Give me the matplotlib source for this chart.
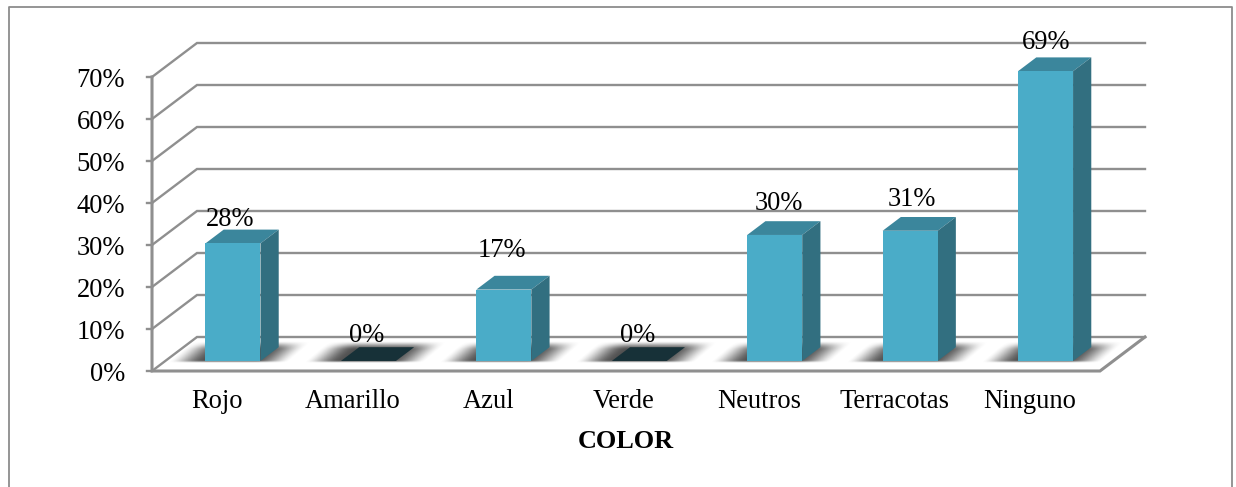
import matplotlib.pyplot as plt
import numpy as np
from matplotlib.lines import Line2D
from matplotlib.patches import Polygon

categories = ['Rojo', 'Amarillo', 'Azul', 'Verde', 'Neutros', 'Terracotas', 'Ninguno']
values = [28, 0, 17, 0, 30, 31, 69]
y_ticks = [0, 10, 20, 30, 40, 50, 60, 70]
# value label placement relative to each bar, in pixels
label_lift = [23.5, 25.5, 39.5, 25.5, 31, 31, 29]
label_shift = [-2.5, -1.5, -1.5, -1.5, 4.5, 2, 0.5]

W, H = 1236, 487
FRONT_L, FRONT_R, FRONT_Y, TOP_Y = 152, 1100, 371, 77
DEPTH_X, DEPTH_Y = 45, 34
FS = 19.1

plt.rcParams['font.family'] = ['Liberation Serif', 'DejaVu Serif']
fig = plt.figure(figsize=(W / 100, H / 100), dpi=100)
ax = fig.add_axes([FRONT_L / W, 1 - FRONT_Y / H, (FRONT_R - FRONT_L) / W, (FRONT_Y - TOP_Y) / H])

px_x = (FRONT_R - FRONT_L) / len(categories)
px_y = (FRONT_Y - TOP_Y) / 70
dx = DEPTH_X / px_x
dy = DEPTH_Y / px_y


def proj(x, y, d):
    # oblique projection, d=0 is the front edge and d=1 the back wall
    return x + dx * d, y + dy * d


def face(pts, color, zorder):
    ax.add_patch(Polygon([proj(*p) for p in pts], closed=True, facecolor=color, edgecolor='none',
                         zorder=zorder, clip_on=False))


def smooth(t):
    t = np.clip(t, 0, 1)
    return t * t * (3 - 2 * t)


# soft floor shadow as an RGBA image, the skew is worked into the alpha channel
SH_W, SH_H, SH_SKEW = 146, 22, 26
px, py = np.meshgrid(np.arange(SH_W) + 0.5, np.arange(SH_H) + 0.5)
sh_v = py / SH_H
sh_u = (px - SH_SKEW * sh_v) / (SH_W - SH_SKEW)
shadow = np.zeros((SH_H, SH_W, 4))
shadow[..., :3] = 0.2
shadow[..., 3] = 0.85 * (smooth(sh_u / 0.3) * smooth((1 - sh_u) / 0.3)
                         * smooth(sh_v / 0.14) * smooth((1 - sh_v) / 0.4)) ** 0.8

grid_c = '#8f8f8f'
lw = 1.7
x0, x1 = -0.5, len(categories) - 0.5

# back wall lines, side wall diagonals and tick marks
for t in y_ticks:
    xs, ys = zip(proj(x0, t, 0), proj(x0, t, 1), proj(x1, t, 1))
    ax.plot(xs, ys, color=grid_c, lw=lw, clip_on=False, zorder=1, solid_joinstyle='miter')
    ax.plot([x0 - 5 / px_x, x0], [t, t], color=grid_c, lw=lw, clip_on=False, zorder=1)
    ax.text(x0 - 27 / px_x, t - 0.8, f'{t}%', ha='right', va='center', fontsize=FS, color='black')

# front of the floor and the vertical axis
xs, ys = zip(proj(x0, 70, 0), proj(x0, 0, 0), proj(x1, 0, 0), proj(x1, 0, 1))
ax.plot(xs, ys, color=grid_c, lw=2.2, clip_on=False, zorder=2, solid_joinstyle='miter')

half = 27.5 / px_x
d_front, d_back = 0.295, 0.70

for i, (v_i, lift, shift) in enumerate(zip(values, label_lift, label_shift)):
    l, r = i - half, i + half

    sx0, sy0 = proj(l, 0, d_front)
    sx0 -= 38 / px_x
    sy0 -= 2.5 / px_y
    ax.imshow(shadow, origin='lower', aspect='auto', interpolation='bilinear', zorder=3, clip_on=False,
              extent=(sx0, sx0 + SH_W / px_x, sy0, sy0 + SH_H / px_y))

    if v_i > 0:
        face([(l, v_i, d_front), (r, v_i, d_front), (r, v_i, d_back), (l, v_i, d_back)], '#3b869c', 5)
        face([(r, 0, d_front), (r, 0, d_back), (r, v_i, d_back), (r, v_i, d_front)], '#326f80', 5)
        face([(l, 0, d_front), (r, 0, d_front), (r, v_i, d_front), (l, v_i, d_front)], '#4aacc8', 6)
    else:
        face([(l, 0, d_front), (r, 0, d_front), (r, 0, d_back), (l, 0, d_back)], '#173138', 5)

    bx, by = proj(i, v_i, d_front)
    ax.annotate(f'{v_i}%', (bx, by), xytext=(shift * 0.72, lift * 0.72), textcoords='offset points',
                ha='center', va='center', fontsize=FS, color='black', zorder=8, annotation_clip=False)
    ax.text(i - 2.5 / px_x, -30.5 / px_y, categories[i], ha='center', va='center', fontsize=FS, color='black')

ax.text(3.0, -70.5 / px_y, 'COLOR', ha='center', va='center', fontsize=FS - 0.2, fontweight='bold', color='black')

ax.set_xlim(-0.5, len(categories) - 0.5)
ax.set_ylim(0, 70)
ax.axis('off')

# outer chart border, open at the bottom edge
border = '#8c8c8c'
bx0, bx1, by0 = 9 / W, 1232 / W, 1 - 7 / H
fig.add_artist(Line2D([bx0, bx0, bx1, bx1], [0, by0, by0, 0], color=border, lw=1.3, transform=fig.transFigure))

fig.savefig('out.png', dpi=100, facecolor='white')
